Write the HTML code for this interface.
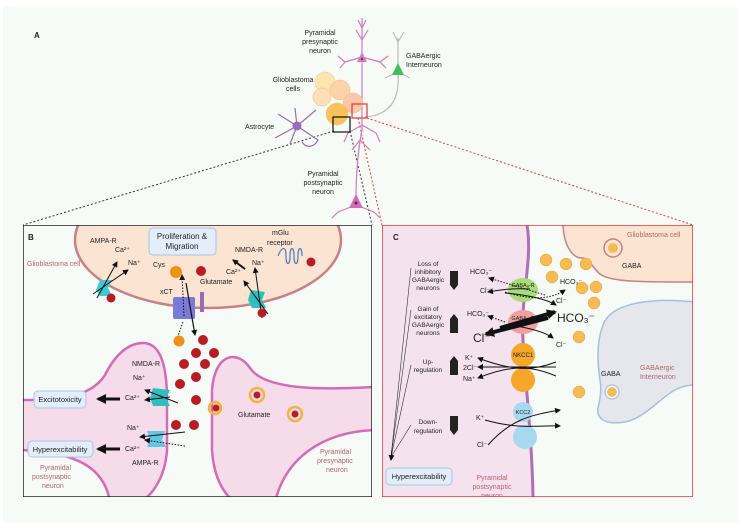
<!DOCTYPE html>
<html><head><meta charset="utf-8"><style>
html,body{margin:0;padding:0;background:#fff}
svg{display:block}
text{font-family:"Liberation Sans",Arial,sans-serif;fill:#222}
.s{font-size:7px}
.r{fill:#b5636b}
</style></head><body>
<svg width="740" height="525" viewBox="0 0 740 525" xmlns="http://www.w3.org/2000/svg">
<defs>
<marker id="ah" markerWidth="6" markerHeight="6" refX="5" refY="3" orient="auto" markerUnits="userSpaceOnUse"><path d="M0,0 L6,3 L0,6 z" fill="#111"/></marker>
<marker id="bh" markerWidth="10" markerHeight="10" refX="8" refY="5" orient="auto" markerUnits="userSpaceOnUse"><path d="M0,0 L10,5 L0,10 z" fill="#111"/></marker>
</defs>
<rect x="3" y="7" width="735" height="515" fill="#f6fbf8"/>
<text x="34" y="38" style="font-size:8px;font-weight:bold">A</text>

<line x1="334" y1="131" x2="23" y2="225" stroke="#333" stroke-dasharray="2,2" stroke-width="1"/>
<line x1="350" y1="131" x2="372" y2="225" stroke="#333" stroke-dasharray="2,2" stroke-width="1"/>
<line x1="358" y1="118" x2="382" y2="225" stroke="#e33" stroke-dasharray="2,2" stroke-width="1"/>
<line x1="367" y1="118" x2="693" y2="225" stroke="#e33" stroke-dasharray="2,2" stroke-width="1"/>

<g stroke="#d47ab8" stroke-width="1.2" fill="none">
<line x1="362" y1="18" x2="362" y2="130"/>
<path d="M362 130 C358 150 356 175 356 200"/>
<path d="M362 40 L356 30 M362 40 L368 30 M362 28 L358 20 M362 28 L366 20 M362 57 L345 62 M345 62 L338 56 M345 62 L340 68 M362 57 L380 62 M380 62 L388 56 M380 62 L386 68 M362 125 L348 133 M348 133 L344 142 M362 125 L376 133 M376 133 L380 142 M360 140 L352 150 M360 140 L370 150 M356 205 L338 212 M338 212 L332 218 M356 205 L374 212 M374 212 L380 218"/>
</g>
<path d="M357 62 L362 52 L367 62 Z" fill="#d47ab8"/>
<circle cx="362" cy="59" r="1.2" fill="#7a2a6a"/>
<path d="M349 208 L356 194 L363 208 Z" fill="#d36bb6"/>
<circle cx="356" cy="203" r="1.5" fill="#6a1d5a"/>
<g stroke="#bbb" stroke-width="1.2" fill="none">
<path d="M398 70 L398 38 M398 42 L393 32 M398 42 L404 32 M398 72 L385 78 M398 72 L410 78 M398 74 C400 100 390 115 365 117"/>
</g>
<path d="M392 75 L398 63 L404 75 Z" fill="#3fbf5a"/>
<g stroke="#9b6ab8" stroke-width="1.2" fill="none">
<path d="M297 126 L278 114 M297 126 L275 138 M297 126 L316 110 M297 126 L318 140 C314 148 306 148 302 142 M297 126 L295 108 M297 126 L290 144"/>
</g>
<circle cx="297" cy="126" r="4.5" fill="#9b6ab8"/>
<g stroke="#f0c070" stroke-width=".5">
<circle cx="325" cy="82" r="10" fill="#fde4b0"/>
<circle cx="340" cy="90" r="10" fill="#fbd3a8"/>
<circle cx="322" cy="97" r="9" fill="#fde0b8"/>
<circle cx="353" cy="103" r="10" fill="#f8c8a8"/>
<circle cx="337" cy="114" r="11" fill="#f8c25a"/>
</g>
<rect x="333" y="117" width="17" height="15" fill="none" stroke="#111" stroke-width="1.2"/>
<rect x="352" y="104" width="15" height="14" fill="none" stroke="#e33" stroke-width="1.2"/>
<text class="s" x="320" y="35" text-anchor="middle">Pyramidal</text>
<text class="s" x="320" y="44" text-anchor="middle">presynaptic</text>
<text class="s" x="320" y="53" text-anchor="middle">neuron</text>
<text class="s" x="406" y="58">GABAergic</text>
<text class="s" x="406" y="67">Interneuron</text>
<text class="s" x="293" y="82" text-anchor="middle">Glioblastoma</text>
<text class="s" x="293" y="91" text-anchor="middle">cells</text>
<text class="s" x="245" y="129">Astrocyte</text>
<text class="s" x="323" y="176" text-anchor="middle">Pyramidal</text>
<text class="s" x="323" y="185" text-anchor="middle">postsynaptic</text>
<text class="s" x="323" y="194" text-anchor="middle">neuron</text>

<!-- PANEL B -->
<svg x="23" y="225" width="349" height="272" viewBox="23 225 349 272">
<rect x="23" y="225" width="349" height="272" fill="#f6fbf8"/>
<ellipse cx="208" cy="240" rx="133" ry="68" fill="#fbe5d2" stroke="#c98084" stroke-width="2.5"/>
<path d="M20 400 C60 400 90 398 105 375 C115 355 128 343 143 343 C160 343 167 365 167 400 L167 450 C165 480 150 497 140 502 L110 502 C105 470 80 452 20 450 Z" fill="#f6dcea"/>
<path d="M20 400 C60 400 90 398 105 375 C115 355 128 343 143 343 C160 343 167 365 167 400 L167 450 C165 480 150 497 140 502" fill="none" stroke="#d36bb6" stroke-width="2.5"/>
<path d="M20 450 C80 452 105 470 110 502" fill="none" stroke="#d36bb6" stroke-width="2.5"/>
<path d="M375 387 C320 390 265 390 250 368 C238 350 215 352 212 390 L212 450 C214 480 225 495 235 502 L275 502 C285 460 320 432 375 430 Z" fill="#f6dcea"/>
<path d="M375 387 C320 390 265 390 250 368 C238 350 215 352 212 390 L212 450 C214 480 225 495 235 502" fill="none" stroke="#d36bb6" stroke-width="2.5"/>
<path d="M275 502 C285 460 320 432 375 430" fill="none" stroke="#d36bb6" stroke-width="2.5"/>
<rect x="23" y="225" width="349" height="272" fill="none" stroke="#222" stroke-width="1.5"/>
<text x="28" y="240" style="font-size:8px;font-weight:bold">B</text>
<rect x="149" y="228" width="67" height="27" rx="4" fill="#e3eefa" stroke="#a9c4e4"/>
<text x="182" y="239" text-anchor="middle" style="font-size:8px">Proliferation &amp;</text>
<text x="182" y="249" text-anchor="middle" style="font-size:8px">Migration</text>
<text class="s" x="90" y="243">AMPA-R</text>
<text class="s" x="115" y="252">Ca²⁺</text>
<text class="s" x="128" y="265">Na⁺</text>
<text class="s r" x="27" y="266">Glioblastoma cell</text>
<text class="s" x="153" y="267">Cys</text>
<text class="s" x="200" y="284">Glutamate</text>
<text class="s" x="160" y="294">xCT</text>
<text class="s" x="235" y="252">NMDA-R</text>
<text class="s" x="226" y="274">Ca²⁺</text>
<text class="s" x="252" y="265">Na⁺</text>
<text class="s" x="272" y="235">mGlu</text>
<text class="s" x="267" y="245">receptor</text>
<path d="M100 280 L112 280 L108 288 L112 296 L100 296 L96 290 Z" fill="#3ec9d6"/>
<path d="M97 298 L117 262" stroke="#111" stroke-width="1" fill="none" marker-end="url(#ah)"/>
<path d="M93 294 L128 270" stroke="#111" stroke-width="1" fill="none" marker-end="url(#ah)"/>
<circle cx="111" cy="298" r="4.5" fill="#b81d24"/>
<path d="M251 290 L265 292 L262 300 L266 308 L252 308 L248 300 Z" fill="#2fbfbf"/>
<path d="M268 314 L244 281" stroke="#111" stroke-width="1" fill="none" marker-end="url(#ah)"/>
<path d="M262 318 L255 268" stroke="#111" stroke-width="1" fill="none" marker-end="url(#ah)"/>
<circle cx="262" cy="313" r="4.5" fill="#b81d24"/>
<path d="M245 269 L233 260" stroke="#111" stroke-width="2" marker-end="url(#ah)"/>
<g fill="none" stroke="#4f7cc0" stroke-width="1.2">
<path d="M278 256 C282 246 286 246 286 256 C286 266 290 266 290 256 C290 246 294 246 294 256 C294 266 298 266 298 256 C298 246 302 246 302 256"/>
</g>
<circle cx="311" cy="262" r="4.5" fill="#b81d24"/>
<rect x="173" y="297" width="22" height="22" rx="2" fill="#7a7ad8"/>
<rect x="200" y="292" width="4" height="20" fill="#9b6ab8"/>
<path d="M184 316 L182 275" stroke="#111" stroke-dasharray="1.5,1.5" marker-end="url(#ah)"/>
<path d="M186 283 L195 335" stroke="#111" stroke-width="1.2" fill="none" marker-end="url(#ah)"/>
<path d="M183 322 L178 336" stroke="#111" stroke-dasharray="1.5,1.5"/>
<circle cx="176" cy="272" r="6" fill="#f09015"/>
<circle cx="201" cy="271" r="5" fill="#b81d24"/>
<circle cx="179" cy="341" r="5.5" fill="#f09015"/>
<g fill="#b81d24">
<circle cx="203" cy="340" r="5"/><circle cx="196" cy="353" r="5"/><circle cx="214" cy="353" r="5"/>
<circle cx="184" cy="364" r="5"/><circle cx="205" cy="364" r="5"/><circle cx="196" cy="377" r="5"/>
<circle cx="180" cy="384" r="5"/><circle cx="196" cy="400" r="5"/><circle cx="176" cy="425" r="5"/>
<circle cx="194" cy="425" r="5"/>
</g>
<path d="M153 388 L170 390 L166 398 L170 406 L153 406 L150 398 Z" fill="#2fbfbf"/>
<path d="M147 431 L165 431 L162 440 L166 447 L147 447 L150 440 Z" fill="#60c8e0"/>
<path d="M178 403 L145 390" stroke="#111" marker-end="url(#ah)"/>
<path d="M170 397 L145 400" stroke="#111" marker-end="url(#ah)"/>
<path d="M185 432 L140 437" stroke="#111" marker-end="url(#ah)"/>
<path d="M185 446 L145 440" stroke="#111" stroke-dasharray="1.5,1.5" marker-end="url(#ah)"/>
<text class="s" x="132" y="366">NMDA-R</text>
<text class="s" x="133" y="380">Na⁺</text>
<text class="s" x="125" y="400">Ca²⁺</text>
<text class="s" x="127" y="430">Na⁺</text>
<text class="s" x="125" y="451">Ca²⁺</text>
<text class="s" x="132" y="465">AMPA-R</text>
<path d="M120 399 L98 399" stroke="#111" stroke-width="3" marker-end="url(#bh)"/>
<path d="M120 449 L98 449" stroke="#111" stroke-width="3" marker-end="url(#bh)"/>
<rect x="34" y="391" width="52" height="17" rx="4" fill="#e3eefa" stroke="#a9c4e4"/>
<text x="60" y="402" text-anchor="middle" style="font-size:7.5px">Excitotoxicity</text>
<rect x="28" y="441" width="65" height="16" rx="4" fill="#e3eefa" stroke="#a9c4e4"/>
<text x="60" y="452" text-anchor="middle" style="font-size:7.5px">Hyperexcitability</text>
<g fill="none" stroke="#f2b33d" stroke-width="2.5">
<circle cx="215" cy="408" r="6"/><circle cx="257" cy="395" r="7"/><circle cx="295" cy="414" r="7"/>
</g>
<g fill="#b81d24"><circle cx="216" cy="408" r="3.5"/><circle cx="257" cy="395" r="3.5"/><circle cx="295" cy="414" r="3.5"/></g>
<text class="s" x="238" y="417">Glutamate</text>
<text class="s r" x="40" y="470">Pyramidal</text>
<text class="s r" x="32" y="479">postsynaptic</text>
<text class="s r" x="42" y="488">neuron</text>
<text class="s r" x="320" y="454">Pyramidal</text>
<text class="s r" x="317" y="463">presynaptic</text>
<text class="s r" x="326" y="472">neuron</text>
</svg>

<!-- PANEL C -->
<svg x="382" y="225" width="311" height="272" viewBox="382 225 311 272">
<rect x="382" y="225" width="311" height="272" fill="#f6fbf8"/>
<path d="M382 225 L527 225 C533 260 520 300 523 340 C526 390 532 440 533 497 L382 497 Z" fill="#f4e3ee"/>
<path d="M527 225 C533 260 520 300 523 340 C526 390 532 440 533 497" fill="none" stroke="#b06fb5" stroke-width="3"/>
<path d="M563 222 C563 245 572 258 582 258 C590 258 592 268 600 274 C610 282 640 282 695 282 L695 222 Z" fill="#fbe5d2" stroke="#c98084" stroke-width="1.5"/>
<circle cx="613" cy="248" r="9" fill="none" stroke="#c98084" stroke-width="1.5"/>
<circle cx="613" cy="248" r="5" fill="#f6bb55"/>
<text class="s r" x="627" y="237">Glioblastoma cell</text>
<text class="s" x="622" y="268">GABA</text>
<path d="M695 302 C660 298 612 300 603 325 C597 340 597 360 600 380 C602 390 600 400 598 408 C596 420 608 425 625 422 C645 418 660 398 675 390 C683 386 690 385 695 385 Z" fill="#e5e7ec" stroke="#a9bedb" stroke-width="1.5"/>
<circle cx="612" cy="392" r="7" fill="#f6fbf8" stroke="#a9bedb" stroke-width="1.2"/>
<text class="s" x="601" y="376">GABA</text>
<text class="s r" x="640" y="370">GABAergic</text>
<text class="s r" x="640" y="379">Interneuron</text>
<g fill="#f6bb55" stroke="#e8a03a" stroke-width=".5">
<circle cx="546" cy="260" r="6"/><circle cx="566" cy="264" r="6"/><circle cx="586" cy="264" r="6"/>
<circle cx="552" cy="277" r="6"/><circle cx="582" cy="288" r="6"/><circle cx="596" cy="287" r="6"/>
<circle cx="594" cy="303" r="6"/><circle cx="579" cy="337" r="6"/><circle cx="579" cy="392" r="6"/>
<circle cx="612" cy="392" r="4.5"/>
</g>
<rect x="382" y="225" width="311" height="272" fill="none" stroke="#e33" stroke-width="1.5"/>
<text x="393" y="240" style="font-size:8px;font-weight:bold">C</text>
<ellipse cx="523" cy="290" rx="15" ry="12" fill="#a8dc7a"/>
<ellipse cx="523" cy="322" rx="15" ry="12" fill="#f0a0a0"/>
<text x="523" y="287" text-anchor="middle" style="font-size:5.5px">GABAₐ-R</text>
<text x="523" y="320" text-anchor="middle" style="font-size:5.5px">GABAₐ-R</text>
<circle cx="523" cy="355" r="12" fill="#f6a628"/>
<circle cx="523" cy="380" r="12" fill="#f6a628"/>
<text x="523" y="357" text-anchor="middle" style="font-size:6px">NKCC1</text>
<circle cx="523" cy="412" r="10" fill="#a8d8f0"/>
<circle cx="525" cy="437" r="12" fill="#a8d8f0"/>
<text x="523" y="414" text-anchor="middle" style="font-size:5.5px">KCC2</text>
<path d="M545 295 L489 278" stroke="#111" stroke-dasharray="1.5,1.5" fill="none" marker-end="url(#ah)"/>
<path d="M505 292 C530 300 550 300 565 290" stroke="#111" stroke-dasharray="1.5,1.5" fill="none" marker-end="url(#ah)"/>
<path d="M530 289 C510 288 500 290 488 292" stroke="#111" fill="none" marker-end="url(#ah)"/>
<path d="M505 293 C530 295 548 300 556 305" stroke="#111" fill="none" marker-end="url(#ah)"/>
<path d="M505 322 L488 316" stroke="#111" stroke-dasharray="1.5,1.5" marker-end="url(#ah)"/>
<path d="M548 318 L486 334" stroke="#111" stroke-width="4" marker-end="url(#bh)"/>
<path d="M500 328 L555 312" stroke="#111" stroke-width="4" marker-end="url(#bh)"/>
<path d="M510 325 C530 328 545 332 553 338" stroke="#111" fill="none" marker-end="url(#ah)"/>
<text class="s" x="470" y="274">HCO₃⁻</text>
<text class="s" x="480" y="293">Cl⁻</text>
<text class="s" x="560" y="284">HCO₃⁻</text>
<text class="s" x="556" y="303">Cl⁻</text>
<text class="s" x="467" y="316">HCO₃⁻</text>
<text x="473" y="342" style="font-size:12px">Cl⁻</text>
<text x="557" y="322" style="font-size:12px">HCO₃⁻</text>
<text class="s" x="556" y="347">Cl⁻</text>
<path d="M556 362 C530 372 510 370 478 358" stroke="#111" fill="none" marker-end="url(#ah)"/>
<path d="M556 367 L478 367" stroke="#111" fill="none" marker-end="url(#ah)"/>
<path d="M556 376 C530 365 510 365 478 378" stroke="#111" fill="none" marker-end="url(#ah)"/>
<text class="s" x="465" y="360">K⁺</text>
<text class="s" x="463" y="370">2Cl⁻</text>
<text class="s" x="463" y="381">Na⁺</text>
<path d="M485 420 C520 430 540 425 560 426" stroke="#111" fill="none" marker-end="url(#ah)"/>
<path d="M488 445 C510 420 530 415 560 410" stroke="#111" fill="none" marker-end="url(#ah)"/>
<text class="s" x="476" y="420">K⁺</text>
<text class="s" x="477" y="447">Cl⁻</text>
<g>
<text class="s" x="428" y="266" text-anchor="middle" style="font-size:6.5px">Loss of</text>
<text class="s" x="428" y="274" text-anchor="middle" style="font-size:6.5px">inhibitory</text>
<text class="s" x="428" y="282" text-anchor="middle" style="font-size:6.5px">GABAergic</text>
<text class="s" x="428" y="290" text-anchor="middle" style="font-size:6.5px">neurons</text>
<text class="s" x="428" y="311" text-anchor="middle" style="font-size:6.5px">Gain of</text>
<text class="s" x="428" y="319" text-anchor="middle" style="font-size:6.5px">excitatory</text>
<text class="s" x="428" y="327" text-anchor="middle" style="font-size:6.5px">GABAergic</text>
<text class="s" x="428" y="335" text-anchor="middle" style="font-size:6.5px">neurons</text>
<text class="s" x="428" y="364" text-anchor="middle" style="font-size:6.5px">Up-</text>
<text class="s" x="428" y="372" text-anchor="middle" style="font-size:6.5px">regulation</text>
<text class="s" x="428" y="424" text-anchor="middle" style="font-size:6.5px">Down-</text>
<text class="s" x="428" y="433" text-anchor="middle" style="font-size:6.5px">regulation</text>
</g>
<g fill="#222">
<path d="M450 271 L458 271 L458 285 L454 290 L450 285 Z"/>
<path d="M450 333 L458 333 L458 319 L454 314 L450 319 Z"/>
<path d="M450 375 L458 375 L458 361 L454 356 L450 361 Z"/>
<path d="M450 416 L458 416 L458 430 L454 435 L450 430 Z"/>
</g>
<g stroke="#333" stroke-width=".6" fill="none">
<path d="M411 268 L391 457"/><path d="M411 310 L391 457"/><path d="M411 365 L391 457"/><path d="M411 425 L391 457"/>
</g>
<path d="M392 450 L391 460" stroke="#111" marker-end="url(#ah)"/>
<rect x="386" y="468" width="66" height="17" rx="4" fill="#e3eefa" stroke="#a9c4e4"/>
<text x="419" y="479" text-anchor="middle" style="font-size:7.5px">Hyperexcitability</text>
<text class="s r" x="492" y="480" text-anchor="middle">Pyramidal</text>
<text class="s r" x="492" y="489" text-anchor="middle">postsynaptic</text>
<text class="s r" x="492" y="498" text-anchor="middle">neuron</text>
</svg>
</svg>
</body></html>
